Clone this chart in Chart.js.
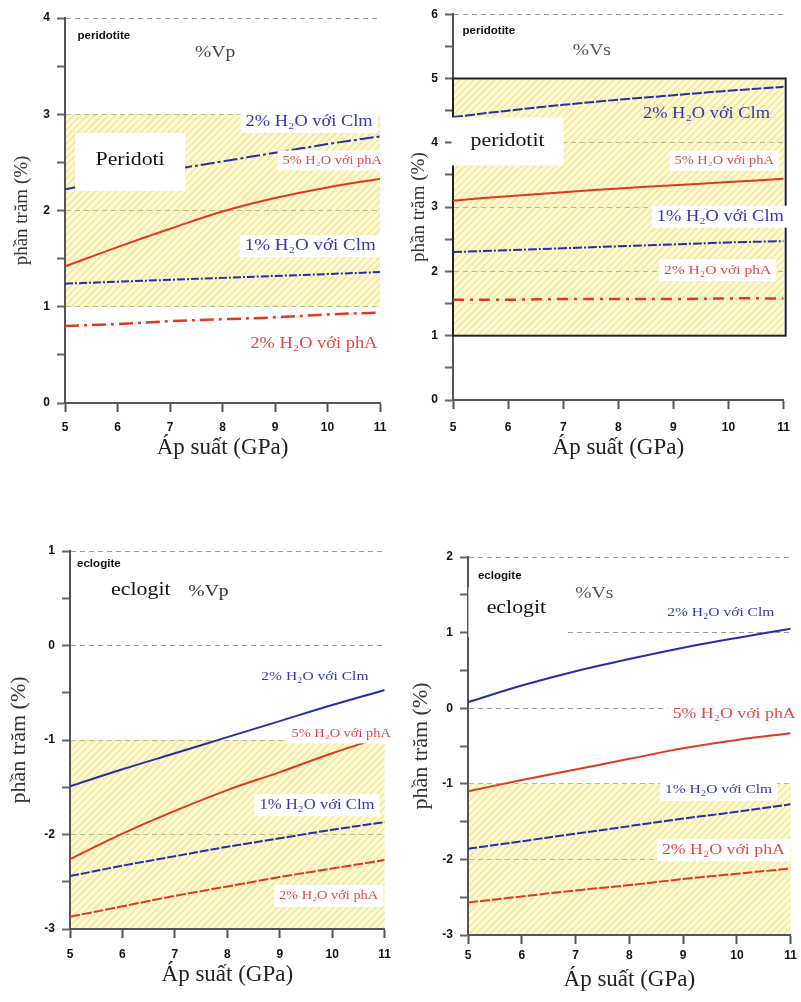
<!DOCTYPE html>
<html>
<head>
<meta charset="utf-8">
<script src="https://cdn.jsdelivr.net/npm/chart.js@4.4.1/dist/chart.umd.min.js"></script>
<style>
  html, body { margin: 0; padding: 0; background: #fff; }
  #page { position: relative; width: 801px; height: 1002px; overflow: hidden; }
  canvas { position: absolute; }
</style>
</head>
<body>
<div id="page">
  <canvas id="vpPer" width="400" height="470" style="left:0;top:0"></canvas>
  <canvas id="vsPer" width="401" height="470" style="left:400px;top:0"></canvas>
  <canvas id="vpEcl" width="400" height="482" style="left:0;top:520px"></canvas>
  <canvas id="vsEcl" width="401" height="482" style="left:400px;top:520px"></canvas>
</div>
<script>
// áp suất (GPa)
const pressure = [5, 6, 7, 8, 9, 10, 11];

// peridotit, %Vp
const vpPerClm2 = [2.22, 2.32, 2.42, 2.51, 2.60, 2.69, 2.77];
const vpPerPhA5 = [1.42, 1.62, 1.81, 1.99, 2.13, 2.24, 2.33];
const vpPerClm1 = [1.24, 1.26, 1.28, 1.30, 1.32, 1.34, 1.36];
const vpPerPhA2 = [0.80, 0.82, 0.85, 0.87, 0.89, 0.92, 0.94];

// peridotit, %Vs
const vsPerClm2 = [4.40, 4.50, 4.59, 4.67, 4.74, 4.81, 4.87];
const vsPerPhA5 = [3.10, 3.17, 3.23, 3.29, 3.34, 3.39, 3.44];
const vsPerClm1 = [2.30, 2.33, 2.36, 2.39, 2.42, 2.45, 2.47];
const vsPerPhA2 = [1.56, 1.56, 1.57, 1.57, 1.57, 1.58, 1.58];

// eclogit, %Vp
const vpEclClm2 = [-1.49, -1.31, -1.14, -0.97, -0.80, -0.63, -0.47];
const vpEclPhA5 = [-2.26, -1.99, -1.75, -1.53, -1.34, -1.14, -0.96];
const vpEclClm1 = [-2.44, -2.33, -2.23, -2.13, -2.04, -1.95, -1.87];
const vpEclPhA2 = [-2.87, -2.76, -2.65, -2.55, -2.45, -2.36, -2.27];

// eclogit, %Vs
const vsEclClm2 = [0.08, 0.30, 0.49, 0.65, 0.80, 0.93, 1.05];
const vsEclPhA5 = [-1.10, -0.95, -0.81, -0.67, -0.53, -0.42, -0.33];
const vsEclClm1 = [-1.86, -1.76, -1.66, -1.56, -1.46, -1.37, -1.27];
const vsEclPhA2 = [-2.57, -2.49, -2.41, -2.34, -2.26, -2.19, -2.12];

const lblClm2 = '2% H₂O với Clm';
const lblClm1 = '1% H₂O với Clm';
const lblPhA5 = '5% H₂O với phA';
const lblPhA2 = '2% H₂O với phA';

const serif = "'Liberation Serif', 'DejaVu Serif', serif";
const sans = "'Liberation Sans', Arial, sans-serif";
const BLUE = '#2a2ea6';
const RED = '#e2381f';
const BLUE_TXT = '#3636b2';
const RED_TXT = '#e04848';
const STRETCH = 1.15;

let hatchPattern = null;
function getHatch(ctx) {
  if (hatchPattern) return hatchPattern;
  const c = document.createElement('canvas');
  c.width = 7; c.height = 7;
  const g = c.getContext('2d');
  g.strokeStyle = '#ece59a';
  g.lineWidth = 1.3;
  g.beginPath();
  g.moveTo(-1, 8); g.lineTo(8, -1);
  g.moveTo(-1, 1); g.lineTo(1, -1);
  g.moveTo(6, 8); g.lineTo(8, 6);
  g.stroke();
  hatchPattern = ctx.createPattern(c, 'repeat');
  return hatchPattern;
}

// vùng vàng gạch chéo
const bandPlugin = {
  id: 'band',
  beforeDraw(chart, args, o) {
    if (o.from === undefined) return;
    const {ctx, chartArea: a, scales: {y}} = chart;
    const top = y.getPixelForValue(o.to), bot = y.getPixelForValue(o.from);
    ctx.save();
    ctx.fillStyle = '#fcf9d2';
    ctx.fillRect(a.left, top, a.right - a.left, bot - top);
    ctx.fillStyle = getHatch(ctx);
    ctx.fillRect(a.left, top, a.right - a.left, bot - top);
    ctx.restore();
  },
  beforeDatasetsDraw(chart, args, o) {
    if (!o.outline) return;
    const {ctx, chartArea: a, scales: {y}} = chart;
    const top = y.getPixelForValue(o.to), bot = y.getPixelForValue(o.from);
    ctx.save();
    ctx.strokeStyle = '#222';
    ctx.lineWidth = 2;
    ctx.strokeRect(a.left, top, a.right - a.left + 2, bot - top);
    ctx.restore();
  }
};

// chữ chú thích trên hình
const notesPlugin = {
  id: 'notes',
  afterDatasetsDraw(chart, args, o) {
    const {ctx, scales: {x, y}} = chart;
    (o.items || []).forEach(n => {
      const px = x.getPixelForValue(n.x), py = y.getPixelForValue(n.y);
      const st = n.stretch || STRETCH;
      ctx.save();
      ctx.font = n.font;
      const w = ctx.measureText(n.text).width * st;
      if (n.box) {
        const bw = n.boxW || w + 10, bh = n.boxH || 22;
        ctx.fillStyle = '#fff';
        ctx.fillRect(px - bw / 2, py - bh / 2, bw, bh);
      }
      ctx.translate(px, py + (n.dy || 0));
      ctx.scale(st, 1);
      ctx.fillStyle = n.color;
      ctx.textAlign = 'center';
      ctx.textBaseline = 'middle';
      ctx.fillText(n.text, 0, 0);
      ctx.restore();
    });
  }
};

function note(text, x, y, color, size, box, extra) {
  return Object.assign({text, x, y, color, font: size + 'px ' + serif, box}, extra || {});
}
function tag(text, x, y) {
  return {text, x, y, color: '#111', font: 'bold 11px ' + sans, stretch: 1.05};
}

function gridColor(v, band) {
  if (Math.abs(v - Math.round(v)) > 1e-6) return 'rgba(0,0,0,0)';
  if (v >= band.from && v <= band.to) return '#b4bd86';
  return '#9a9a9a';
}

function makePanel(id, p) {
  const canvas = document.getElementById(id);
  const W = canvas.width, H = canvas.height;
  return new Chart(canvas, {
    type: 'line',
    data: {
      datasets: p.series.map(s => ({
        data: pressure.map((v, i) => ({x: v, y: s.values[i]})),
        borderColor: s.color,
        borderWidth: s.width || 2,
        borderDash: s.dash || [],
        pointRadius: 0,
        tension: 0.4,
        fill: false
      }))
    },
    options: {
      responsive: false,
      animation: false,
      layout: { padding: { left: 0, top: p.area.top, right: W - p.area.right, bottom: 0 } },
      plugins: {
        legend: { display: false },
        tooltip: { enabled: false },
        band: p.band,
        notes: { items: p.notes }
      },
      scales: {
        x: {
          type: 'linear', min: 5, max: 11,
          afterFit: s => { s.height = H - p.area.bottom; },
          ticks: { stepSize: 1, padding: p.xTickPad, color: '#111', font: { family: sans, size: 12, weight: 'bold' } },
          grid: { drawOnChartArea: false, tickLength: 9, tickWidth: 2, tickColor: '#555' },
          border: { color: '#555', width: 2 },
          title: { display: true, text: 'Áp suất (GPa)', color: '#222',
                   font: { family: serif, size: 23 }, padding: { top: 0, bottom: p.xTitlePad } }
        },
        y: {
          min: p.yMin, max: p.yMax,
          afterFit: s => { s.width = p.area.left; },
          ticks: { stepSize: 0.5, padding: 7, color: '#111', font: { family: sans, size: 12, weight: 'bold' },
                   callback: v => Math.abs(v - Math.round(v)) < 1e-6 ? String(Math.round(v)) : '' },
          grid: {
            color: c => c.tick.value === p.yMin ? 'rgba(0,0,0,0)' : gridColor(c.tick.value, p.band),
            tickLength: 8, tickWidth: 2, tickColor: '#666'
          },
          border: { color: '#555', width: 2, dash: [5, 4] },
          title: { display: true, text: 'phần trăm (%)', color: '#333',
                   font: { family: serif, size: p.yTitleSize }, padding: { top: p.yTitlePad, bottom: 0 } }
        }
      }
    },
    plugins: [bandPlugin, notesPlugin]
  });
}

makePanel('vpPer', {
  area: { left: 65, right: 380, top: 18, bottom: 403 },
  yMin: 0, yMax: 4, band: { from: 1, to: 3 },
  xTickPad: 8, xTitlePad: 8, yTitleSize: 19, yTitlePad: 11,
  series: [
    { values: vpPerClm2, color: BLUE, dash: [14, 3, 3, 3] },
    { values: vpPerPhA5, color: RED },
    { values: vpPerClm1, color: BLUE, dash: [8, 2, 2, 2] },
    { values: vpPerPhA2, color: RED, width: 2.5, dash: [14, 5, 3, 5] }
  ],
  notes: [
    tag('peridotite', 5.74, 3.81),
    note('%Vp', 7.86, 3.64, '#444', 17, false),
    note('Peridoti', 6.24, 2.505, '#111', 19, true, { boxW: 110, boxH: 58, dy: -2 }),
    note(lblClm2, 9.65, 2.92, BLUE_TXT, 16, true),
    note(lblPhA5, 10.09, 2.52, RED_TXT, 12.5, true, { boxH: 20 }),
    note(lblClm1, 9.67, 1.63, BLUE_TXT, 16.5, true),
    note(lblPhA2, 9.74, 0.62, RED_TXT, 16, true)
  ]
});

makePanel('vsPer', {
  area: { left: 53, right: 393, top: 13, bottom: 400 },
  yMin: 0, yMax: 6, band: { from: 1, to: 5, outline: true },
  xTickPad: 11, xTitlePad: 8, yTitleSize: 19, yTitlePad: 8,
  series: [
    { values: vsPerClm2, color: BLUE, dash: [10, 2] },
    { values: vsPerPhA5, color: RED },
    { values: vsPerClm1, color: BLUE, dash: [9, 2, 2, 2] },
    { values: vsPerPhA2, color: RED, width: 2.5, dash: [11, 6, 3, 6] }
  ],
  notes: [
    tag('peridotite', 5.65, 5.74),
    note('%Vs', 7.52, 5.43, '#555', 17, false),
    note('peridotit', 5.99, 4.02, '#111', 19, true, { boxW: 112, boxH: 48 }),
    note(lblClm2, 9.60, 4.45, BLUE_TXT, 16, false),
    note(lblPhA5, 9.92, 3.72, RED_TXT, 12.5, true, { boxH: 20 }),
    note(lblClm1, 9.85, 2.85, BLUE_TXT, 16, true),
    note(lblPhA2, 9.80, 2.02, RED_TXT, 13.5, true)
  ]
});

makePanel('vpEcl', {
  area: { left: 70, right: 395, top: 31, bottom: 409 },
  yMin: -3, yMax: 1, band: { from: -3, to: -1 },
  xTickPad: 9, xTitlePad: 13, yTitleSize: 22, yTitlePad: 6,
  series: [
    { values: vpEclClm2, color: BLUE },
    { values: vpEclPhA5, color: RED },
    { values: vpEclClm1, color: BLUE, dash: [9, 2] },
    { values: vpEclPhA2, color: RED, dash: [10, 2] }
  ],
  notes: [
    tag('eclogite', 5.55, 0.86),
    note('eclogit', 6.35, 0.59, '#111', 19, false),
    note('%Vp', 7.64, 0.57, '#333', 17, false),
    note(lblClm2, 9.67, -0.33, BLUE_TXT, 13.5, true),
    note(lblPhA5, 10.17, -0.93, RED_TXT, 12.5, true, { boxH: 20 }),
    note(lblClm1, 9.71, -1.69, BLUE_TXT, 14.5, true),
    note(lblPhA2, 9.93, -2.65, RED_TXT, 12.5, true)
  ]
});

makePanel('vsEcl', {
  area: { left: 68, right: 395, top: 37, bottom: 415 },
  yMin: -3, yMax: 2, band: { from: -3, to: -1 },
  xTickPad: 4, xTitlePad: 8, yTitleSize: 22, yTitlePad: 8,
  series: [
    { values: vsEclClm2, color: BLUE },
    { values: vsEclPhA5, color: RED },
    { values: vsEclClm1, color: BLUE, dash: [9, 2] },
    { values: vsEclPhA2, color: RED, dash: [10, 2] }
  ],
  notes: [
    tag('eclogite', 5.59, 1.75),
    note('eclogit', 5.90, 1.27, '#111', 19, true, { boxW: 96, boxH: 50, dy: -4 }),
    note('%Vs', 7.35, 1.52, '#555', 17, false),
    note(lblClm2, 9.70, 1.27, BLUE_TXT, 13.5, true),
    note(lblPhA5, 9.95, -0.07, RED_TXT, 15.5, true),
    note(lblClm1, 9.66, -1.08, BLUE_TXT, 13.5, true),
    note(lblPhA2, 9.75, -1.88, RED_TXT, 15.5, true)
  ]
});
</script>
</body>
</html>
